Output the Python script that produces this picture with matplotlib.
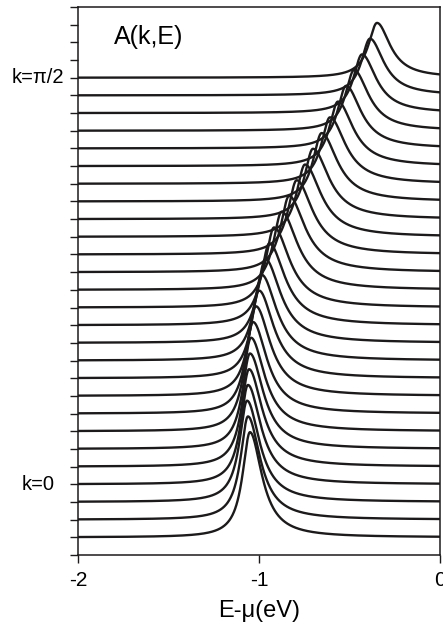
import numpy as np
import matplotlib
matplotlib.use('Agg')
import matplotlib.pyplot as plt

plt.rcParams['font.family'] = ['Liberation Sans', 'DejaVu Sans']

# one curve per k, from bottom (index 1) to top (k = pi/2)
baselines = list(range(1, 28))
peak_pos = [-1.050, -1.061, -1.066, -1.061, -1.055, -1.050, -1.044, -1.033, -1.017,
            -1.000, -0.985, -0.965, -0.943, -0.917, -0.875, -0.834, -0.792, -0.746,
            -0.702, -0.654, -0.608, -0.564, -0.519, -0.475, -0.431, -0.387, -0.348]
peak_height = [5.95, 5.84, 5.73, 5.62, 5.51, 5.40, 5.29, 5.18, 5.07, 4.96, 4.85, 4.74,
               4.63, 4.53, 4.42, 4.31, 4.20, 4.09, 3.98, 3.87, 3.76, 3.65, 3.54, 3.43,
               3.32, 3.21, 3.10]
width_left = [0.050, 0.050, 0.051, 0.051, 0.052, 0.052, 0.053, 0.053, 0.054, 0.054,
              0.055, 0.055, 0.056, 0.056, 0.057, 0.057, 0.058, 0.058, 0.058, 0.058,
              0.058, 0.058, 0.058, 0.058, 0.058, 0.058, 0.058]
width_right = [0.080, 0.082, 0.084, 0.086, 0.088, 0.090, 0.092, 0.094, 0.096, 0.098,
               0.100, 0.102, 0.104, 0.105, 0.106, 0.107, 0.107, 0.107, 0.106, 0.105,
               0.104, 0.102, 0.100, 0.098, 0.095, 0.092, 0.088]

k_labels = {'k=\u03c0/2': 27, 'k=0': 4}
x_ticks = [-2, -1, 0]
n_yticks = 32

fig = plt.figure(figsize=(4.43, 6.33), dpi=100)
ax = fig.add_axes([78 / 443, 1 - 555 / 633, (440 - 78) / 443, (555 - 7) / 633])

energy = np.linspace(-2, 0, 1201)
for b, e0, h, gl, gr in zip(baselines, peak_pos, peak_height, width_left, width_right):
    g = np.where(energy < e0, gl, gr)
    a = b + h * g ** 2 / ((energy - e0) ** 2 + g ** 2)
    ax.plot(energy, a, color='#1c1a1b', lw=1.7, solid_capstyle='butt')

ax.set_xlim(-2, 0)
ax.set_ylim(0, n_yticks - 1)
ax.set_xticks(x_ticks)
ax.set_xticklabels([str(t) for t in x_ticks])
ax.set_yticks(range(n_yticks))
ax.set_yticklabels([])
ax.tick_params(axis='both', direction='out', length=5.5, width=1, labelsize=15,
               color='#1c1a1b', pad=6)
for s in ax.spines.values():
    s.set_linewidth(1.1)
    s.set_color('#1c1a1b')

ax.set_xlabel('E-\u03bc(eV)', fontsize=17, labelpad=7)
ax.text(0.1, 0.945, 'A(k,E)', transform=ax.transAxes, fontsize=18, ha='left', va='center')

for lab, yv in k_labels.items():
    ax.annotate(lab, xy=(0, yv), xycoords=('axes fraction', 'data'),
                xytext=(-40, 0), textcoords='offset pixels',
                ha='center', va='center', fontsize=14.5, annotation_clip=False)

fig.savefig('out.png', dpi=100)
